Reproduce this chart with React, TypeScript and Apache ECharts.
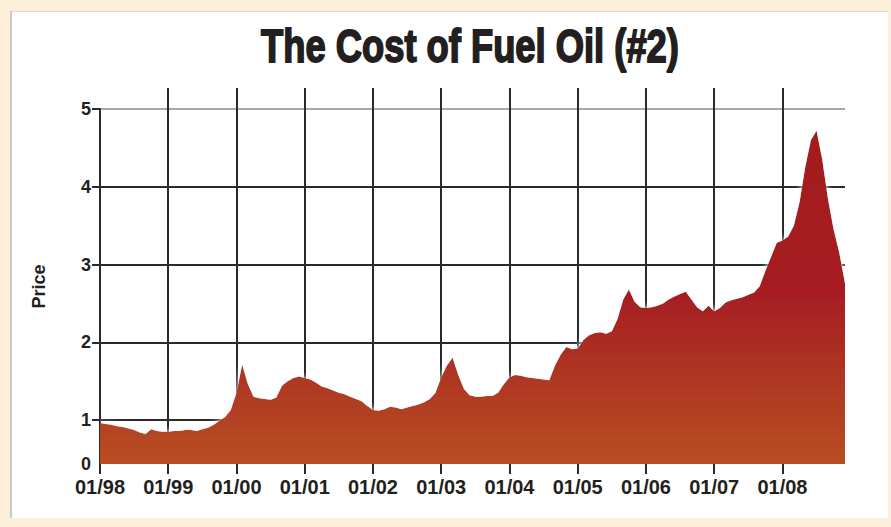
import React, { useEffect, useRef } from "react";
import * as echarts from "echarts";

// ---- data ----
const years = ["98", "99", "00", "01", "02", "03", "04", "05", "06", "07", "08"];
const monthNums = ["01", "02", "03", "04", "05", "06", "07", "08", "09", "10", "11", "12"];
const categories = years.flatMap((y) => monthNums.map((m) => `${m}/${y}`));

const price1998 = [0.96, 0.95, 0.94, 0.92, 0.91, 0.89, 0.87, 0.84, 0.82, 0.88, 0.86, 0.85];
const price1999 = [0.85, 0.86, 0.86, 0.87, 0.87, 0.86, 0.88, 0.9, 0.94, 0.99, 1.04, 1.13];
const price2000 = [1.35, 1.71, 1.46, 1.3, 1.28, 1.27, 1.26, 1.29, 1.44, 1.5, 1.54, 1.56];
const price2001 = [1.54, 1.52, 1.48, 1.43, 1.41, 1.38, 1.35, 1.33, 1.3, 1.27, 1.24, 1.18];
const price2002 = [1.13, 1.12, 1.14, 1.17, 1.16, 1.14, 1.16, 1.18, 1.2, 1.23, 1.27, 1.35];
const price2003 = [1.55, 1.7, 1.8, 1.58, 1.4, 1.32, 1.3, 1.3, 1.31, 1.31, 1.35, 1.46];
const price2004 = [1.55, 1.58, 1.57, 1.55, 1.54, 1.53, 1.52, 1.51, 1.7, 1.84, 1.94, 1.91];
const price2005 = [1.92, 2.03, 2.09, 2.12, 2.13, 2.11, 2.14, 2.3, 2.55, 2.68, 2.52, 2.45];
const price2006 = [2.44, 2.45, 2.47, 2.5, 2.55, 2.59, 2.62, 2.65, 2.55, 2.45, 2.4, 2.47];
const price2007 = [2.4, 2.44, 2.51, 2.54, 2.56, 2.58, 2.61, 2.64, 2.72, 2.92, 3.1, 3.28];
const price2008 = [3.31, 3.36, 3.5, 3.8, 4.25, 4.6, 4.72, 4.35, 3.85, 3.45, 3.15, 2.76];

const prices = [
  ...price1998, ...price1999, ...price2000, ...price2001, ...price2002, ...price2003,
  ...price2004, ...price2005, ...price2006, ...price2007, ...price2008,
];

const yTickValues = [1, 2, 3, 4, 5];
const yLabelValues = [0, 1, 2, 3, 4, 5];

const TITLE = "The Cost of Fuel Oil (#2)";
const DARK = "#2a2a2a";
const TEXT = "#231f20";
const FONT = '"Liberation Sans", Arial, Helvetica, sans-serif';

const yearStart = (index: number) => index % 12 === 0;

export default function App() {
  const ref = useRef<HTMLDivElement>(null);

  useEffect(() => {
    if (!ref.current) return;
    const chart = echarts.init(ref.current, null, { renderer: "svg" });
    const option: any = {
      animation: false,
      backgroundColor: "transparent",
      graphic: [
        {
          type: "text",
          x: 470,
          y: 46,
          scaleX: 0.79,
          style: {
            text: TITLE,
            font: `bold 46px ${FONT}`,
            fill: TEXT,
            stroke: TEXT,
            lineWidth: 1.8,
            textAlign: "center",
            textVerticalAlign: "middle",
          },
        },
      ],
      grid: [
        { left: 100, right: 46, top: 109, bottom: 63 },
        { left: 100, right: 46, top: 88, height: 21 },
      ],
      xAxis: [
        {
          type: "category",
          gridIndex: 0,
          data: categories,
          boundaryGap: false,
          axisLine: { show: false },
          axisTick: {
            show: true,
            interval: yearStart,
            length: 10,
            lineStyle: { color: DARK, width: 2 },
          },
          axisLabel: {
            interval: yearStart,
            margin: 13,
            fontSize: 20,
            fontWeight: "bold",
            fontFamily: FONT,
            color: TEXT,
          },
          splitLine: {
            show: true,
            interval: yearStart,
            lineStyle: { color: DARK, width: 2 },
          },
        },
        {
          type: "category",
          gridIndex: 1,
          data: categories,
          boundaryGap: false,
          axisLine: { show: false },
          axisTick: { show: false },
          axisLabel: { show: false },
          splitLine: {
            show: true,
            showMinLine: false,
            interval: yearStart,
            lineStyle: { color: DARK, width: 2 },
          },
        },
      ],
      yAxis: [
        {
          type: "value",
          gridIndex: 0,
          min: 0,
          max: 5,
          breaks: [{ start: 0.05, end: 0.55, gap: "1.44%" }],
          breakArea: { show: false },
          axisLine: { show: true, lineStyle: { color: DARK, width: 2 } },
          axisTick: {
            show: true,
            customValues: yTickValues,
            length: 8,
            lineStyle: { color: DARK, width: 2 },
          },
          axisLabel: {
            customValues: yLabelValues,
            margin: 9,
            fontSize: 18,
            fontWeight: "bold",
            fontFamily: FONT,
            color: TEXT,
          },
          splitLine: {
            show: true,
            lineStyle: { color: [DARK, DARK, DARK, DARK, "#a8a8a8"], width: 2 },
          },
          name: "Price",
          nameLocation: "middle",
          nameRotate: 90,
          nameGap: 52,
          nameTextStyle: { fontSize: 18, fontWeight: "bold", fontFamily: FONT, color: TEXT },
        },
        { type: "value", gridIndex: 1, show: false, min: 0, max: 1 },
      ],
      series: [
        {
          type: "line",
          xAxisIndex: 0,
          yAxisIndex: 0,
          data: prices,
          showSymbol: false,
          z: 3,
          lineStyle: { width: 0 },
          areaStyle: {
            opacity: 1,
            color: new echarts.graphic.LinearGradient(0, 0, 0, 1, [
              { offset: 0, color: "#a31b1f" },
              { offset: 0.5, color: "#a61f20" },
              { offset: 0.78, color: "#b03a20" },
              { offset: 1, color: "#b84d22" },
            ]),
            shadowBlur: 6,
            shadowColor: "rgba(255,255,255,1)",
          },
        },
      ],
    };
    chart.setOption(option);
    return () => chart.dispose();
  }, []);

  return (
    <div
      style={{
        position: "fixed",
        left: 0,
        top: 0,
        width: 891,
        height: 527,
        background: "#fcefd9",
      }}
    >
      <div
        style={{
          position: "absolute",
          left: 10,
          top: 11,
          width: 878,
          height: 507,
          background: "#ffffff",
          borderLeft: "2px solid #c9c9c9",
          borderTop: "1px solid #e6dccb",
          boxSizing: "border-box",
        }}
      />
      <div ref={ref} style={{ position: "absolute", left: 0, top: 0, width: 891, height: 527 }} />
    </div>
  );
}
